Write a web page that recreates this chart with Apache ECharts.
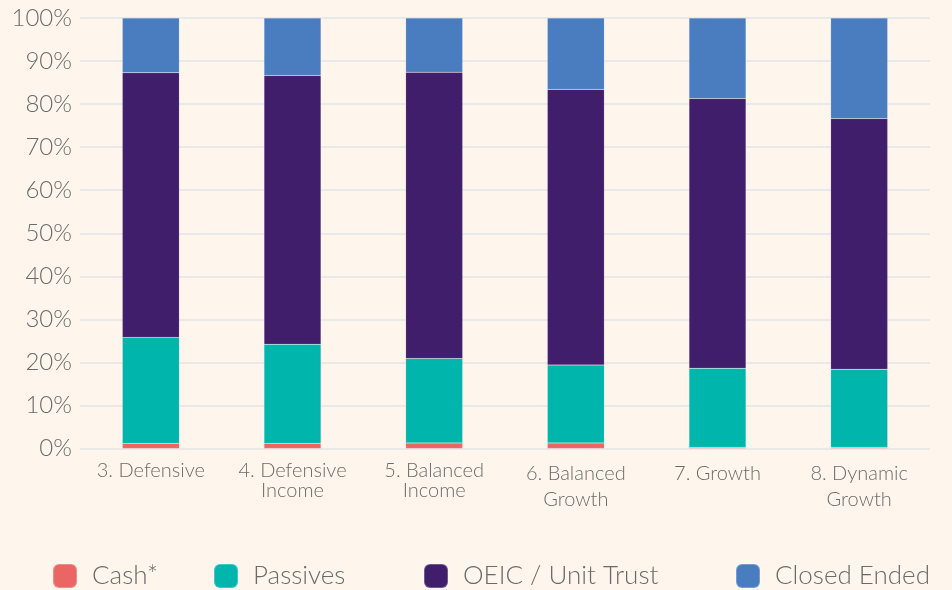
<!DOCTYPE html>
<html>
<head>
<meta charset="utf-8">
<style>
  html, body { margin: 0; padding: 0; background: #FEF6EC; }
  #chart { width: 952px; height: 590px; }
</style>
<script src="https://cdn.jsdelivr.net/npm/echarts@6/dist/echarts.min.js"></script>
</head>
<body>
<div id="chart"></div>
<script>
  // categories and values (percent of portfolio)
  const categories = ['3. Defensive', '4. Defensive\nIncome', '5. Balanced\nIncome', '6. Balanced\nGrowth', '7. Growth', '8. Dynamic\nGrowth'];
  const cash = [1.2, 1.2, 1.3, 1.3, 0.3, 0.3];
  const passives = [24.6, 23.0, 19.6, 18.1, 18.35, 18.1];
  const oeic = [61.5, 62.45, 66.5, 64.0, 62.65, 58.25];
  const closedEnded = [12.7, 13.35, 12.6, 16.6, 18.7, 23.35];
  const seriesNames = ['Cash*', 'Passives', 'OEIC / Unit Trust', 'Closed Ended'];

  const colors = ['#EC6565', '#00B5AC', '#401E6B', '#4A7DC0'];
  const textColor = '#6b6b6b';
  const font = 'Lato, "Liberation Sans", Arial, sans-serif';

  const chart = echarts.init(document.getElementById('chart'));

  const makeSeries = (name, data, i) => ({
    name: name,
    type: 'bar',
    stack: 'total',
    barWidth: 57,
    data: data,
    itemStyle: {
      color: colors[i],
      borderColor: 'rgba(255,255,255,0.25)',
      borderWidth: 0.5
    }
  });

  const legendLeft = [52, 213, 423, 735];

  const option = {
    backgroundColor: '#FEF6EC',
    animation: false,
    grid: { left: 80, right: 22, top: 18, bottom: 141.5 },
    legend: seriesNames.map((n, i) => ({
      data: [n],
      left: legendLeft[i],
      top: 563,
      padding: 0,
      icon: 'roundRect',
      itemWidth: 24,
      itemHeight: 24,
      itemGap: 0,
      textStyle: { color: textColor, fontSize: 26, fontFamily: font, fontWeight: 300, padding: [0, 0, 0, 10] }
    })),
    xAxis: {
      type: 'category',
      data: categories,
      axisLine: { show: false },
      axisTick: { show: false },
      axisLabel: {
        interval: 0,
        margin: 12,
        color: textColor,
        fontFamily: font,
        fontSize: 20,
        fontWeight: 300,
        formatter: (v, idx) => {
          const tag = idx < 3 ? 'a' : 'b';
          return v.split('\n').map(s => '{' + tag + '|' + s + '}').join('\n');
        },
        rich: {
          a: { fontSize: 20, lineHeight: 20, color: textColor, fontFamily: font, fontWeight: 300 },
          b: { fontSize: 20, lineHeight: 26, color: textColor, fontFamily: font, fontWeight: 300 }
        }
      }
    },
    yAxis: {
      type: 'value',
      min: 0,
      max: 100,
      interval: 10,
      axisLine: { show: false },
      axisTick: { show: false },
      splitLine: { lineStyle: { color: '#E3E5E9', width: 1.5 } },
      axisLabel: {
        margin: 8,
        color: textColor,
        fontFamily: font,
        fontSize: 24,
        fontWeight: 300,
        formatter: '{value}%'
      }
    },
    series: [
      makeSeries(seriesNames[0], cash, 0),
      makeSeries(seriesNames[1], passives, 1),
      makeSeries(seriesNames[2], oeic, 2),
      makeSeries(seriesNames[3], closedEnded, 3)
    ]
  };

  chart.setOption(option);
</script>
</body>
</html>
